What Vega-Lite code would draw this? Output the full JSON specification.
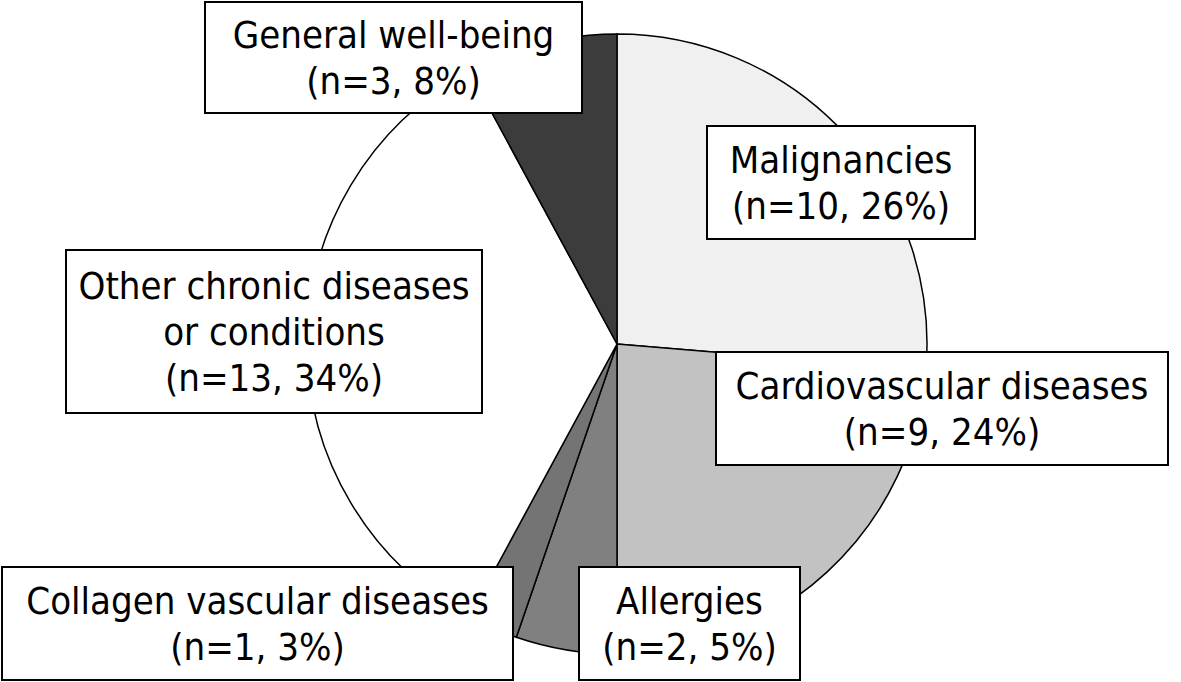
{
  "$schema": "https://vega.github.io/schema/vega-lite/v6.json",
  "width": 1181,
  "height": 682,
  "padding": 0,
  "autosize": {"type": "none"},
  "background": "white",
  "config": {"view": {"stroke": null}},
  "datasets": {
    "slices": [
      {"category": "Malignancies", "n": 10, "order": 1},
      {"category": "Cardiovascular diseases", "n": 9, "order": 2},
      {"category": "Allergies", "n": 2, "order": 3},
      {"category": "Collagen vascular diseases", "n": 1, "order": 4},
      {"category": "Other chronic diseases or conditions", "n": 13, "order": 5},
      {"category": "General well-being", "n": 3, "order": 6}
    ],
    "labels": [
      {"label": "General well-being\n(n=3, 8%)", "x1": 205, "x2": 582, "y1": 2, "y2": 113},
      {"label": "Malignancies\n(n=10, 26%)", "x1": 707, "x2": 975, "y1": 126, "y2": 239},
      {"label": "Cardiovascular diseases\n(n=9, 24%)", "x1": 716, "x2": 1168, "y1": 352, "y2": 465},
      {"label": "Other chronic diseases\nor conditions\n(n=13, 34%)", "x1": 66, "x2": 482, "y1": 250, "y2": 413},
      {"label": "Collagen vascular diseases\n(n=1, 3%)", "x1": 2, "x2": 513, "y1": 567, "y2": 680},
      {"label": "Allergies\n(n=2, 5%)", "x1": 579, "x2": 800, "y1": 567, "y2": 680}
    ]
  },
  "layer": [
    {
      "data": {"name": "slices"},
      "mark": {"type": "arc", "radius": 310, "stroke": "black", "strokeWidth": 1.5},
      "encoding": {
        "theta": {"field": "n", "type": "quantitative", "stack": true},
        "order": {"field": "order", "type": "ordinal"},
        "x": {"datum": 617, "type": "quantitative", "scale": {"domain": [0, 1181], "nice": false, "zero": false}, "axis": null},
        "y": {"datum": 344, "type": "quantitative", "scale": {"domain": [0, 682], "nice": false, "zero": false, "reverse": true}, "axis": null},
        "color": {
          "field": "category",
          "type": "nominal",
          "legend": null,
          "scale": {
            "domain": ["Malignancies", "Cardiovascular diseases", "Allergies", "Collagen vascular diseases", "Other chronic diseases or conditions", "General well-being"],
            "range": ["#f0f0f0", "#c2c2c2", "#808080", "#747474", "#ffffff", "#3c3c3c"]
          }
        }
      }
    },
    {
      "data": {"name": "labels"},
      "mark": {"type": "rect", "fill": "white", "stroke": "black", "strokeWidth": 2},
      "encoding": {
        "x": {"field": "x1", "type": "quantitative"},
        "x2": {"field": "x2"},
        "y": {"field": "y1", "type": "quantitative"},
        "y2": {"field": "y2"}
      }
    },
    {
      "data": {"name": "labels"},
      "transform": [
        {"calculate": "length(split(datum.label, '\\n'))", "as": "nlines"},
        {"calculate": "(datum.x1 + datum.x2) / 2", "as": "tx"},
        {"calculate": "(datum.y1 + datum.y2) / 2 - (datum.nlines - 1) * 23 + 2", "as": "ty"}
      ],
      "mark": {"type": "text", "font": "DejaVu Sans Condensed", "fontSize": 38, "lineBreak": "\n", "lineHeight": 46, "align": "center", "baseline": "middle", "color": "black"},
      "encoding": {
        "x": {"field": "tx", "type": "quantitative"},
        "y": {"field": "ty", "type": "quantitative"},
        "text": {"field": "label", "type": "nominal"}
      }
    }
  ]
}
